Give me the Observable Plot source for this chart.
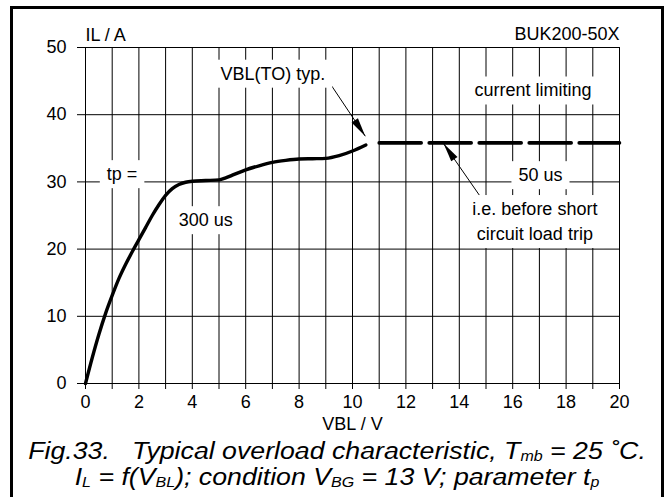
<!DOCTYPE html>
<html><head><meta charset="utf-8">
<script src="https://cdn.jsdelivr.net/npm/d3@7"></script>
<script src="https://cdn.jsdelivr.net/npm/@observablehq/plot@0.6"></script>
<style>
html,body{margin:0;padding:0;background:#fff;}
body{width:667px;height:497px;position:relative;overflow:hidden;font-family:"Liberation Sans",Arial,sans-serif;}
#chart{position:absolute;left:0;top:0;}
#frame{position:absolute;left:10px;top:6px;width:654px;height:560px;border:3px solid #000;box-sizing:border-box;pointer-events:none;}
#caption{position:absolute;left:10px;top:438px;width:654px;text-align:center;font-style:italic;font-size:24.5px;line-height:25px;white-space:pre;color:#000;}
#caption div{display:block;transform:scaleX(1.09);transform-origin:50% 50%;}
#caption div + div{margin-top:1px;}
#caption sub{font-size:0.6em;line-height:0;position:relative;top:0.12em;vertical-align:baseline;}
</style></head>
<body>
<div id="chart"></div>
<div id="caption"><div>Fig.33.   Typical overload characteristic, T<sub>mb</sub> = 25 ˚C.</div><div>I<sub>L</sub> = f(V<sub>BL</sub>); condition V<sub>BG</sub> = 13 V; parameter t<sub>p</sub></div></div>
<div id="frame"></div>
<script>
// ---- data ----
const vbl = [0, 0.25, 0.5, 0.75, 1, 1.25, 1.5, 1.75, 2, 2.25, 2.5, 2.75, 3, 3.25, 3.5, 3.75, 4, 4.5, 5, 5.25, 5.5, 6, 6.5, 7, 7.5, 8, 8.5, 9, 9.5, 10, 10.5];
const il  = [0, 3.8, 7.3, 10.4, 13.1, 15.6, 17.7, 19.6, 21.4, 23.2, 25, 26.6, 28, 29, 29.6, 29.95, 30.1, 30.2, 30.3, 30.6, 31, 31.8, 32.4, 32.9, 33.2, 33.4, 33.45, 33.5, 33.9, 34.6, 35.5];
const limitV = [11, 20];
const limitI = [35.8, 35.8];
const xTicks = [0,1,2,3,4,5,6,7,8,9,10,11,12,13,14,15,16,17,18,19,20];
const yTicks = [0, 10, 20, 30, 40, 50];
const labelText = ["VBL(TO) typ.", "current limiting", "tp =", "300 us", "50 us", "i.e. before short\ncircuit load trip"];
const labelV = [7.02, 16.76, 1.37, 4.5, 17.04, 16.83];
const labelI = [46.4, 43.9, 31.45, 24.6, 31.3, 24.4];
const arrowFromV = [9.05, 14.79];
const arrowFromI = [45.3, 27.8];
const arrowToV = [10.48, 13.41];
const arrowToI = [36.8, 35.7];
const xLabel = "VBL / V";
const yLabel = "IL / A";
const partName = "BUK200-50X";

// ---- layout ----
const W = 667, H = 440, ML = 85, MR = 48, MT = 47, MB = 57;
const kx = (W - ML - MR) / 20, ky = (H - MT - MB) / 50;

const curve = vbl.map((v, i) => ({v, i: il[i]}));
const limit = limitV.map((v, i) => ({v, i: limitI[i]}));
const labels = labelText.map((t, k) => ({t, v: labelV[k], i: labelI[k]}));
const arrows = arrowToV.map((v, k) => {
  const x1 = arrowFromV[k], y1 = arrowFromI[k], x2 = v, y2 = arrowToI[k];
  const dx = (x2 - x1) * kx, dy = -(y2 - y1) * ky;
  return {x1, y1, x2, y2, angle: Math.atan2(dx, -dy) * 180 / Math.PI};
});
const arrowHead = {
  draw(ctx, size) {
    const L = Math.sqrt(size / Math.PI), w = L * 0.2;
    ctx.moveTo(0, 0); ctx.lineTo(-w, L); ctx.lineTo(w, L); ctx.closePath();
  }
};

const svg = Plot.plot({
  width: W, height: H,
  marginLeft: ML, marginRight: MR, marginTop: MT, marginBottom: MB,
  style: {fontFamily: "'Liberation Sans', Arial, sans-serif", fontSize: "18px", background: "transparent", color: "#000", overflow: "visible"},
  x: {domain: [0, 20], ticks: xTicks, tickFormat: d => d % 2 ? "" : String(d), tickSize: 6, tickPadding: 6, label: null},
  y: {domain: [0, 50], ticks: yTicks, tickSize: 8, tickPadding: 11, label: null},
  marks: [
    Plot.ruleX(xTicks, {stroke: "#000", strokeWidth: 1}),
    Plot.ruleY(yTicks, {stroke: "#000", strokeWidth: 1}),
    Plot.line(curve, {x: "v", y: "i", curve: "monotone-x", stroke: "#000", strokeWidth: 3.4}),
    Plot.line(limit, {x: "v", y: "i", stroke: "#000", strokeWidth: 3.6, strokeDasharray: "42,8"}),
    Plot.link(arrows, {x1: "x1", y1: "y1", x2: "x2", y2: "y2", stroke: "#000", strokeWidth: 1}),
    Plot.dot(arrows, {x: "x2", y: "y2", symbol: arrowHead, r: 19, rotate: "angle", fill: "#000", stroke: "none"}),
    Plot.text(labels, {x: "v", y: "i", text: "t", textAnchor: "middle", lineAnchor: "middle", lineHeight: 25 / 18, fill: "#000"}),
    Plot.text([yLabel], {frameAnchor: "top-left", textAnchor: "start", lineAnchor: "bottom", dy: -7, fill: "#000"}),
    Plot.text([partName], {frameAnchor: "top-right", textAnchor: "end", lineAnchor: "bottom", dy: -8, fill: "#000"}),
    Plot.text([xLabel], {frameAnchor: "bottom", textAnchor: "middle", lineAnchor: "middle", dy: 41, fill: "#000"})
  ]
});
document.getElementById("chart").append(svg);

// white boxes behind the in-plot annotations (they interrupt the grid)
const boxed = new Set(labelText.map(t => t.replace(/\n/g, "")));
svg.querySelectorAll("text").forEach(t => {
  if (!boxed.has(t.textContent)) return;
  const b = t.getBBox();
  const r = document.createElementNS("http://www.w3.org/2000/svg", "rect");
  r.setAttribute("x", b.x - 7); r.setAttribute("y", b.y - 4);
  r.setAttribute("width", b.width + 14); r.setAttribute("height", b.height + 8);
  r.setAttribute("fill", "#fff"); r.setAttribute("stroke", "none");
  const tr = t.getAttribute("transform"); if (tr) r.setAttribute("transform", tr);
  t.parentNode.insertBefore(r, t);
});
</script>
</body></html>
